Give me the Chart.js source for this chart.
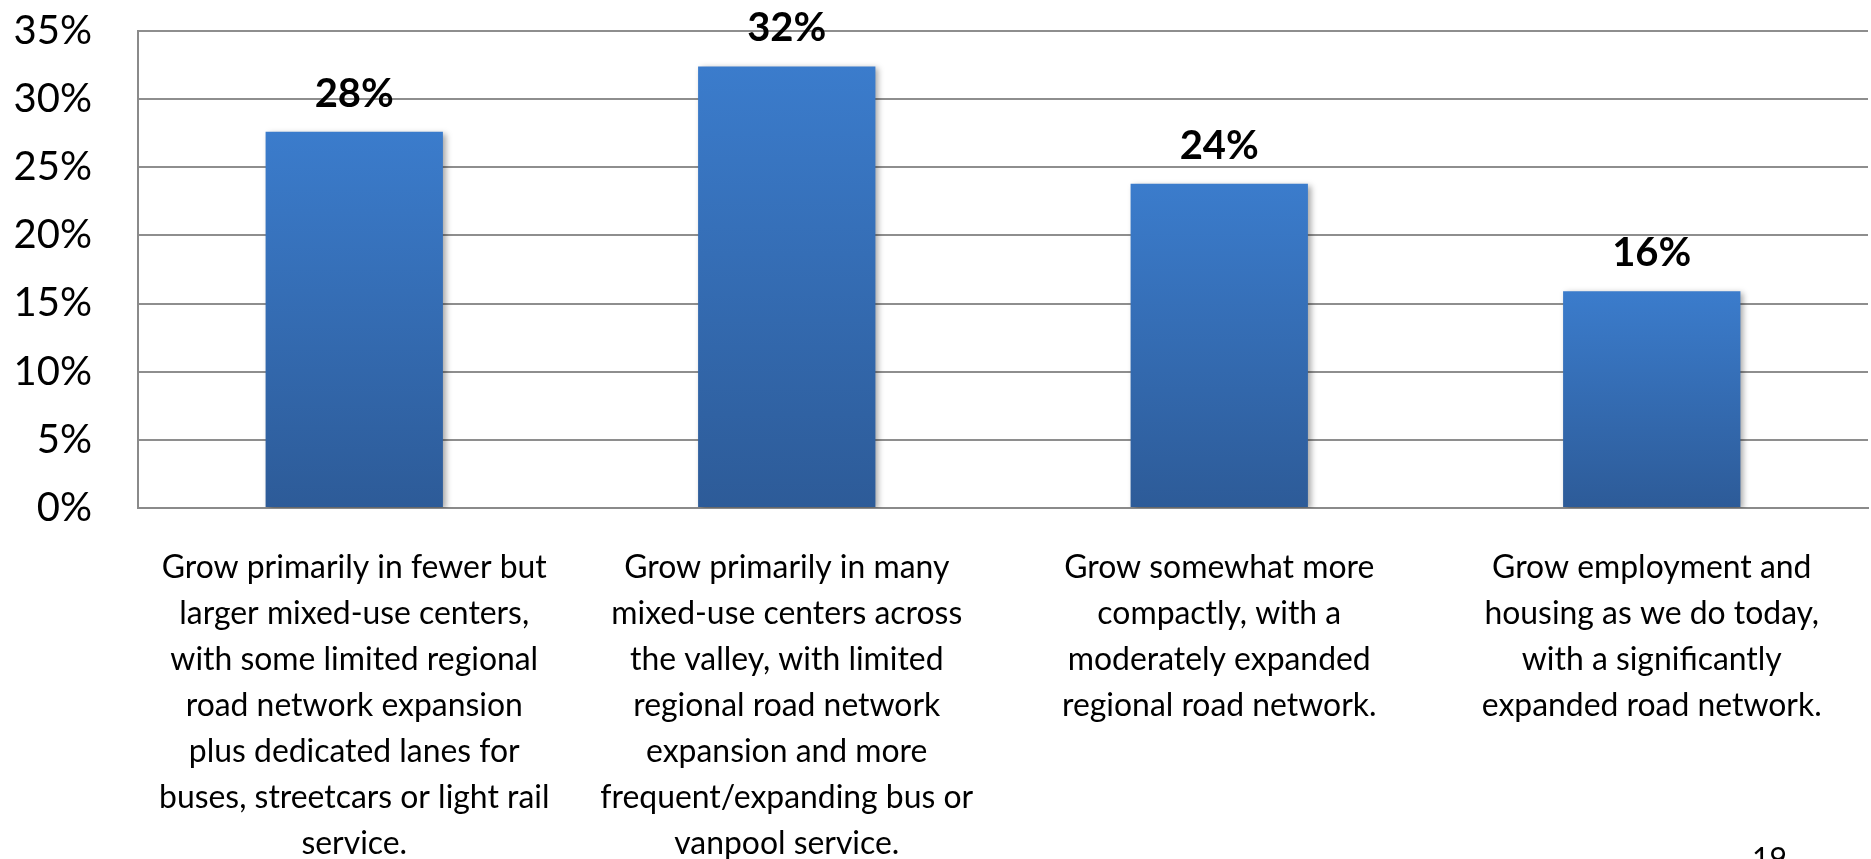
<!DOCTYPE html>
<html>
<head>
<meta charset="utf-8">
<script src="https://cdn.jsdelivr.net/npm/chart.js@4/dist/chart.umd.min.js"></script>
<style>
  html, body { margin: 0; padding: 0; background: #fff; overflow: hidden; }
  #wrap { position: relative; width: 1871px; height: 859px; }
  #page { position: absolute; left: 1752px; top: 842px; font-family: Lato, sans-serif; font-size: 30px; color: #000; line-height: 1; }
</style>
</head>
<body>
<div id="wrap">
  <canvas id="c" width="1871" height="859"></canvas>
  <div id="page">19</div>
</div>
<script>
const categories = [
  ["Grow primarily in fewer but", "larger mixed-use centers,", "with some limited regional", "road network expansion", "plus dedicated lanes for", "buses, streetcars or light rail", "service."],
  ["Grow primarily in many", "mixed-use centers across", "the valley, with limited", "regional road network", "expansion and more", "frequent/expanding bus or", "vanpool service."],
  ["Grow somewhat more", "compactly, with a", "moderately expanded", "regional road network."],
  ["Grow employment and", "housing as we do today,", "with a significantly", "expanded road network."]
];
const values = [27.6, 32.4, 23.8, 15.9];
const dataLabels = ["28%", "32%", "24%", "16%"];
const yTicks = [0, 5, 10, 15, 20, 25, 30, 35];

// fit category font so the widest line matches the reference width (~390px)
const mctx = document.createElement('canvas').getContext('2d');
mctx.font = '100px Lato';
const w100 = mctx.measureText('buses, streetcars or light rail').width;
const catSize = Math.round(390 / w100 * 100 * 10) / 10;

const shadowPlugin = {
  id: 'barShadow',
  beforeDatasetsDraw(chart) {
    const ctx = chart.ctx;
    ctx.save();
    ctx.shadowColor = 'rgba(0,0,0,0.35)';
    ctx.shadowBlur = 6;
    ctx.shadowOffsetX = 3;
    ctx.shadowOffsetY = 2;
  },
  afterDatasetsDraw(chart) {
    chart.ctx.restore();
    const ctx = chart.ctx;
    const meta = chart.getDatasetMeta(0);
    ctx.save();
    ctx.font = 'bold 40px Lato';
    ctx.fillStyle = '#000';
    ctx.textAlign = 'center';
    ctx.textBaseline = 'middle';
    meta.data.forEach((bar, i) => {
      ctx.fillText(dataLabels[i], bar.x, bar.y - 38);
    });
    ctx.restore();
  }
};

new Chart(document.getElementById('c'), {
  type: 'bar',
  data: {
    labels: categories,
    datasets: [{
      data: values,
      backgroundColor: (context) => {
        const chart = context.chart;
        const ca = chart.chartArea;
        if (!ca || context.raw === undefined) return '#3670BA';
        const ys = chart.scales.y;
        const top = ys.getPixelForValue(context.raw);
        const bottom = ys.getPixelForValue(0);
        const g = chart.ctx.createLinearGradient(0, top, 0, bottom);
        g.addColorStop(0, '#3B7CCC');
        g.addColorStop(1, '#2D5B98');
        return g;
      },
      borderWidth: 0,
      barPercentage: 0.41,
      categoryPercentage: 1.0
    }]
  },
  options: {
    responsive: false,
    animation: false,
    devicePixelRatio: 1,
    layout: { padding: { top: 31, right: 3, left: 0, bottom: 0 } },
    plugins: {
      legend: { display: false },
      tooltip: { enabled: false },
      title: { display: false }
    },
    scales: {
      x: {
        grid: { display: false, drawTicks: false },
        border: { display: true, color: '#8A8A8A', width: 2 },
        ticks: {
          color: '#000',
          font: { family: 'Lato', size: catSize, lineHeight: 46 / catSize },
          padding: 37,
          maxRotation: 0,
          minRotation: 0,
          autoSkip: false
        },
        afterFit: (scale) => { scale.height = 351; scale.paddingLeft = 0; scale.paddingRight = 0; }
      },
      y: {
        min: 0,
        max: 35,
        afterBuildTicks: (scale) => { scale.ticks = yTicks.map(v => ({ value: v })); },
        grid: { color: '#8E8E8E', lineWidth: 2, drawTicks: false },
        border: { display: true, color: '#8A8A8A', width: 2 },
        ticks: {
          color: '#000',
          font: { family: 'Lato', size: 40 },
          padding: 46,
          callback: (v) => v + '%'
        },
        afterFit: (scale) => { scale.width = 138; scale.paddingTop = 0; scale.paddingBottom = 0; }
      }
    }
  },
  plugins: [shadowPlugin]
});
</script>
</body>
</html>
